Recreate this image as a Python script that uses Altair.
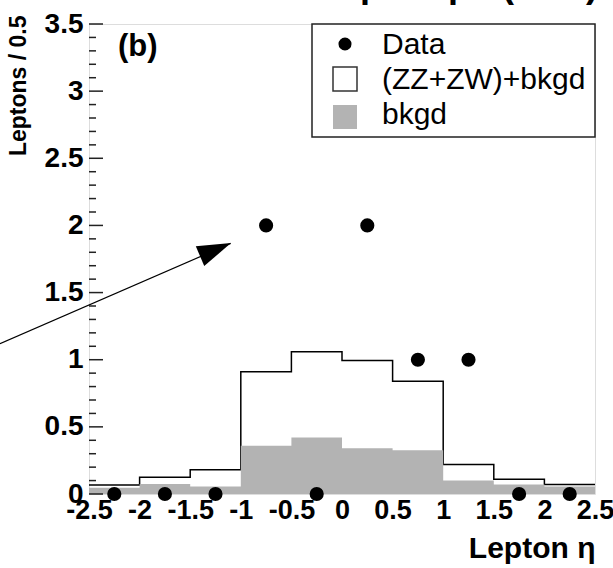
import altair as alt
import pandas as pd
import numpy as np

# ---- data ----
bin_edges = [-2.5, -2.0, -1.5, -1.0, -0.5, 0.0, 0.5, 1.0, 1.5, 2.0, 2.5]
total_vals = [0.067, 0.125, 0.18, 0.91, 1.06, 0.995, 0.84, 0.22, 0.11, 0.07]   # (ZZ+ZW)+bkgd
bkgd_vals = [0.047, 0.075, 0.055, 0.36, 0.42, 0.34, 0.325, 0.10, 0.07, 0.055]  # bkgd
data_x = [-2.25, -1.75, -1.25, -0.75, -0.25, 0.25, 0.75, 1.25, 1.75, 2.25]
data_y = [0, 0, 0, 2, 0, 2, 1, 1, 0, 0]
legend_labels = ["Data", "(ZZ+ZW)+bkgd", "bkgd"]
x_tick_labels = [-2.5, -2, -1.5, -1, -0.5, 0, 0.5, 1, 1.5, 2, 2.5]
y_major = [0, 0.5, 1, 1.5, 2, 2.5, 3, 3.5]
y_minor = [round(v, 1) for v in np.arange(0, 3.51, 0.1) if round(v * 10) % 5 != 0]
arrow_start = [-3.38, 1.12]
arrow_tip = [-1.10, 1.866]
arrow_head = [-1.25, 1.82]

FONT = "Liberation Sans"
W, H = 506, 470

step_total = pd.DataFrame({"x": bin_edges, "y": total_vals + [total_vals[-1]]})
step_bkgd = pd.DataFrame({"x": bin_edges, "y": bkgd_vals + [bkgd_vals[-1]]})
pts = pd.DataFrame({"x": data_x, "y": data_y})

xscale = alt.Scale(domain=[-2.5, 2.5], nice=False, zero=False)
yscale = alt.Scale(domain=[0, 3.5], nice=False, zero=False)
xaxis = alt.Axis(values=x_tick_labels, labelExpr="datum.value + ''", title="Lepton η",
                 titleAnchor="end", titleFontSize=30, titleFontWeight="bold", titlePadding=10,
                 labelFontSize=27, labelFontWeight="bold", labelPadding=3, labelOverlap=False,
                 labelFlush=False, ticks=False, domain=False, grid=False, labelColor="black",
                 titleColor="black", labelFont=FONT, titleFont=FONT)
yaxis = alt.Axis(values=y_major, labelExpr="datum.value + ''", title="Leptons / 0.5",
                 titleAngle=270, titleAlign="right", titleBaseline="middle", titleX=-71, titleY=-9,
                 titleFontSize=23, titleFontWeight="bold",
                 labelFontSize=28, labelFontWeight="bold", labelPadding=6, labelOverlap=False,
                 labelFlush=False, ticks=False, domain=False, grid=False, labelColor="black",
                 titleColor="black", labelFont=FONT, titleFont=FONT)


def X(f):
    return alt.X(f, type="quantitative", scale=xscale, axis=xaxis)


def Y(f):
    return alt.Y(f, type="quantitative", scale=yscale, axis=yaxis)


total_line = alt.Chart(step_total).mark_line(interpolate="step-after", color="black",
                                              strokeWidth=1.5).encode(x=X("x"), y=Y("y"))
bkgd_area = alt.Chart(step_bkgd).mark_area(interpolate="step-after", color="#b3b3b3",
                                            opacity=1).encode(x=X("x"), y=Y("y"))

major_ticks = alt.Chart(pd.DataFrame({"v": y_major})).mark_rule(color="#222", strokeWidth=1.5).encode(
    y=Y("v"), x=alt.value(0), x2=alt.value(14))
minor_ticks = alt.Chart(pd.DataFrame({"v": y_minor})).mark_rule(color="#222", strokeWidth=1.5).encode(
    y=Y("v"), x=alt.value(0), x2=alt.value(7))

arrow_df = pd.DataFrame({"x1": [arrow_start[0]], "y1": [arrow_start[1]],
                         "x2": [arrow_tip[0]], "y2": [arrow_tip[1]],
                         "hx": [arrow_head[0]], "hy": [arrow_head[1]]})
arrow_line = alt.Chart(arrow_df).mark_rule(color="black", strokeWidth=1.2, clip=False).encode(
    x=X("x1"), y=Y("y1"), x2="x2", y2="y2")
arrow_hd = alt.Chart(arrow_df).mark_point(shape="M0,-1L0.64,1L-0.64,1Z", size=1130, angle=67,
                                          filled=True, color="black", opacity=1).encode(
    x=X("hx"), y=Y("hy"))

points = alt.Chart(pts).mark_circle(size=200, color="black", opacity=1).encode(x=X("x"), y=Y("y"))

one = pd.DataFrame({"a": [0]})
legend_box = alt.Chart(one).mark_rect(fill="white", stroke="#222", strokeWidth=1.5).encode(
    x=alt.value(223), x2=alt.value(W), y=alt.value(0), y2=alt.value(113))
leg_dot = alt.Chart(one).mark_circle(size=170, color="black", opacity=1).encode(
    x=alt.value(256), y=alt.value(20))
leg_sq1 = alt.Chart(one).mark_rect(fill="white", stroke="#333", strokeWidth=1.5).encode(
    x=alt.value(244), x2=alt.value(268), y=alt.value(43), y2=alt.value(67))
leg_sq2 = alt.Chart(one).mark_rect(fill="#b3b3b3").encode(
    x=alt.value(244), x2=alt.value(268), y=alt.value(81), y2=alt.value(105))
leg_texts = []
for lab, yy in zip(legend_labels, [21, 56, 91]):
    leg_texts.append(alt.Chart(one).mark_text(align="left", baseline="middle", fontSize=30,
                                              font=FONT, color="black").encode(
        x=alt.value(293), y=alt.value(yy), text=alt.value(lab)))

b_text = alt.Chart(one).mark_text(align="left", baseline="middle", fontSize=31, fontWeight="bold",
                                  font=FONT, color="black").encode(
    x=alt.value(29), y=alt.value(23), text=alt.value("(b)"))
top_text = alt.Chart(one).mark_text(align="right", baseline="bottom", fontSize=36, fontWeight="bold",
                                    font=FONT, color="black").encode(
    x=alt.value(W + 3), y=alt.value(-19), text=alt.value("Lepton pT (GeV)"))

chart = alt.layer(total_line, bkgd_area, major_ticks, minor_ticks, arrow_line, arrow_hd, points,
                  legend_box, leg_dot, leg_sq1, leg_sq2, *leg_texts, b_text, top_text).properties(
    width=W, height=H,
    autosize=alt.AutoSizeParams(type="none"),
    padding={"left": 89, "top": 24, "right": 18, "bottom": 74},
).configure_view(stroke="#222", strokeWidth=1.5).configure(font=FONT, background="white")

chart.save("out.html", embed_options={"renderer": "svg", "actions": False})
